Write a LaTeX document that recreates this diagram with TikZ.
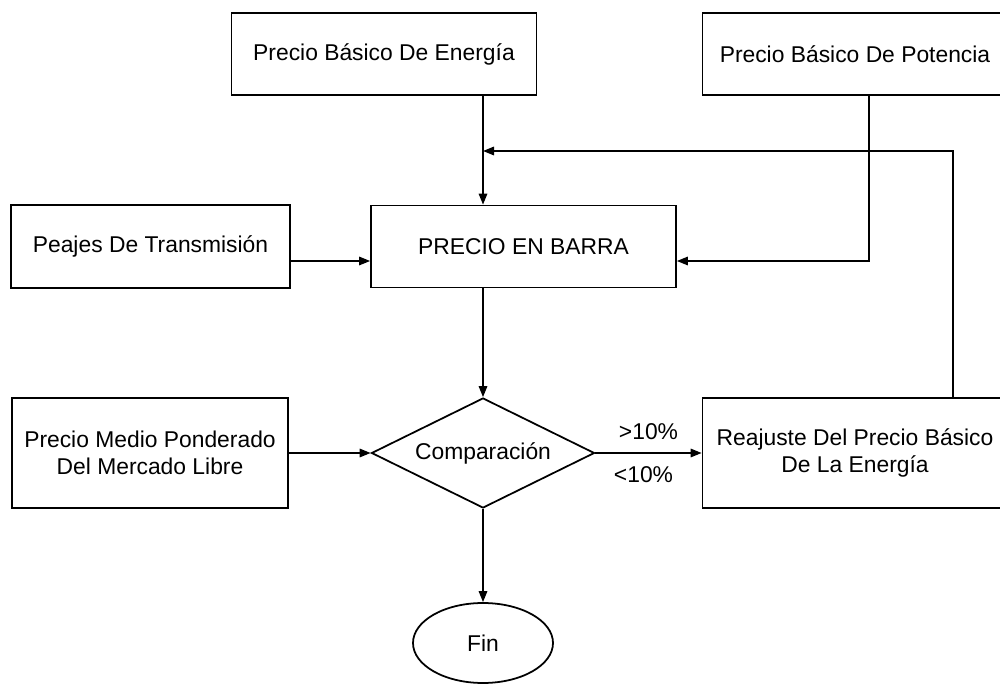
\documentclass[tikz,border=0pt]{standalone}
\usepackage{fontspec}
\setmainfont{Liberation Sans}
\usepackage{tikz}
\usetikzlibrary{arrows.meta,shapes.geometric}

\begin{document}
\begin{tikzpicture}[x=0.2mm,y=-0.2mm,font=\fontsize{13pt}{15pt}\selectfont]
\tikzstyle{box}=[rectangle,draw,line width=1pt,inner sep=0pt,align=center,minimum width=61mm,minimum height=16.4mm]
\tikzstyle{arr}=[line width=0.9pt,-{Triangle[length=2.2mm,width=1.7mm]}]
\useasboundingbox (0,0) rectangle (1000,684);
\foreach \name/\point/\txt in {
	ener/{384,54}/{Precio Básico De Energía},
	pot/{855,54}/{Precio Básico De Potencia},
	barra/{523.5,246.5}/{PRECIO EN BARRA}}
	\node[box] (\name) at (\point) {\txt};
\node[box,minimum width=55.8mm,minimum height=16.6mm] (peaj) at (150.5,246.5) {Peajes De Transmisión};
\node[box,minimum width=55.2mm,minimum height=22mm] (medio) at (150,453) {Precio Medio Ponderado\\Del Mercado Libre};
\node[box,minimum height=22mm] (reaj) at (855,453) {Reajuste Del Precio Básico\\De La Energía};
\node[diamond,draw,line width=1pt,inner sep=0pt,aspect=2.03,minimum width=44.6mm,minimum height=22mm] (comp) at (483,453) {Comparación};
\node[ellipse,draw,line width=1pt,inner sep=0pt,minimum width=28mm,minimum height=16mm] (fin) at (483,643) {Fin};
% puntos de quiebre
\coordinate (pk) at (869,261);
\coordinate (fb) at (953,151);
\draw[arr] (ener.south -| comp.north) -- (barra.north -| comp.north);
\draw[arr] (pot.south -| pk) -- (pk) -- (pk -| barra.east);
\draw[arr] (reaj.north -| fb) -- (fb) -- (fb -| comp.north);
\draw[arr] (peaj.east |- pk) -- (barra.west |- pk);
\draw[arr] (barra.south -| comp.north) -- (comp.north);
\draw[arr] (medio.east) -- (comp.west);
\draw[arr] (comp.east) -- (reaj.west |- comp.east) node[midway,above=2.5mm,inner sep=0pt] {>10\%} node[midway,below=2.5mm,inner sep=0pt,xshift=-1mm] {<10\%};
\draw[arr] (comp.south) -- (fin.north);
\end{tikzpicture}
\end{document}
